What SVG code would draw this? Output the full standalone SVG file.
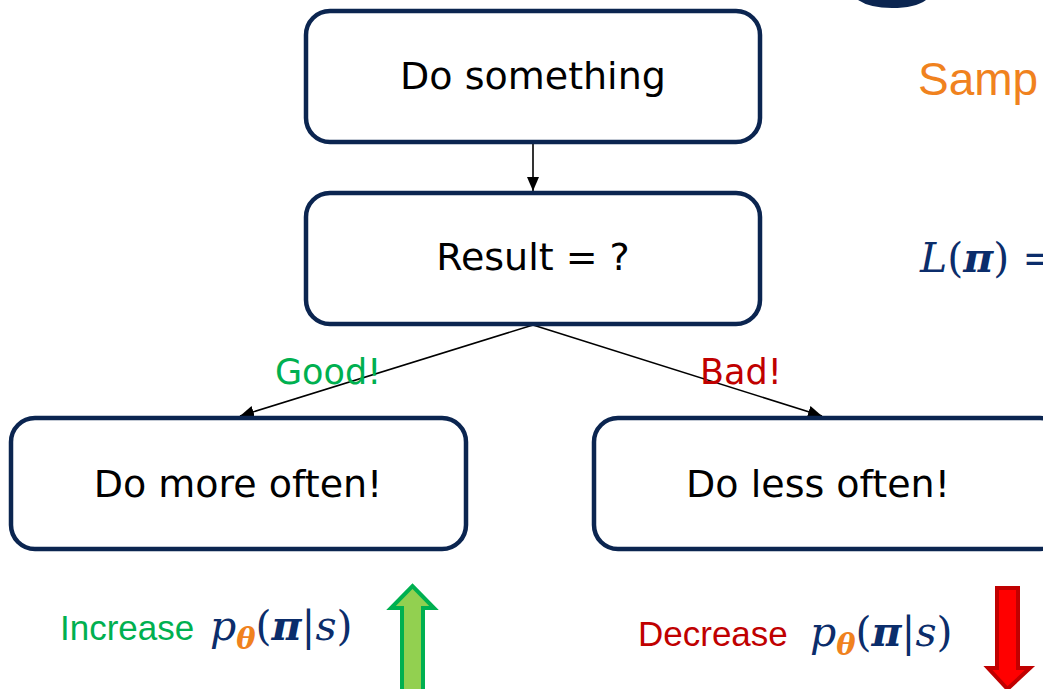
<svg xmlns="http://www.w3.org/2000/svg" width="1043" height="689" viewBox="0 0 1043 689">
<defs>
<style>
.box{fill:#fff;stroke:#0b2550;stroke-width:4.5}
.lbl{font-family:"DejaVu Sans","Noto Sans",sans-serif;font-size:38px;fill:#000;text-anchor:middle}
.conn{stroke:#000;stroke-width:1.6;fill:none}
.hand{font-family:"DejaVu Sans","Noto Sans",sans-serif;font-size:35px}
.math{font-family:"DejaVu Serif","Liberation Serif",serif;font-size:41px;fill:#0b2d6b}
.sans{font-family:"Liberation Sans",Arial,sans-serif}
</style>
<marker id="ah" viewBox="0 0 14 12" refX="14" refY="6" markerWidth="14" markerHeight="12" markerUnits="userSpaceOnUse" orient="auto">
<path d="M0,0 L14,6 L0,12 z" fill="#000"/>
</marker>
</defs>
<rect width="1043" height="689" fill="#fff"/>
<path d="M858,0 Q870,8 892,8 Q915,8 926,0 z" fill="#0b2550"/>
<g id="connectors">
<line class="conn" x1="533" y1="144" x2="533" y2="191" marker-end="url(#ah)"/>
<line class="conn" x1="533" y1="325" x2="240" y2="416" marker-end="url(#ah)"/>
<line class="conn" x1="533" y1="325" x2="822" y2="416" marker-end="url(#ah)"/>
</g>
<g id="node-do-something">
<rect class="box" x="306" y="11" width="454" height="131" rx="24"/>
<text class="lbl" x="533" y="89">Do something</text>
</g>
<g id="node-result">
<rect class="box" x="306" y="193" width="454" height="131" rx="24"/>
<text class="lbl" x="533" y="270">Result = ?</text>
</g>
<g id="node-more">
<rect class="box" x="11" y="418" width="455" height="131" rx="24"/>
<text class="lbl" x="238" y="497">Do more often!</text>
</g>
<g id="node-less">
<rect class="box" x="594" y="418" width="470" height="131" rx="24"/>
<text class="lbl" x="818" y="497">Do less often!</text>
</g>
<text class="hand" x="275" y="384" fill="#00b050">Good!</text>
<text class="hand" x="700" y="384" fill="#c00000">Bad!</text>
<text class="sans" x="918" y="95" font-size="46" fill="#f0821e">Samp</text>
<text class="math" x="920" y="272" font-size="43"><tspan font-style="italic">L</tspan>(<tspan font-weight="bold" font-style="italic">π</tspan>) =</text>
<text class="sans" x="60" y="640" font-size="35" fill="#00b050">Increase</text>
<text class="math" x="210" y="640"><tspan font-style="italic">p</tspan><tspan font-style="italic" font-weight="bold" fill="#f0821e" font-size="29" dy="9">θ</tspan><tspan dy="-9">(</tspan><tspan font-weight="bold" font-style="italic">π</tspan>|<tspan font-style="italic">s</tspan>)</text>
<text class="sans" x="638" y="646" font-size="35" fill="#c00000">Decrease</text>
<text class="math" x="810" y="646"><tspan font-style="italic">p</tspan><tspan font-style="italic" font-weight="bold" fill="#f0821e" font-size="29" dy="9">θ</tspan><tspan dy="-9">(</tspan><tspan font-weight="bold" font-style="italic">π</tspan>|<tspan font-style="italic">s</tspan>)</text>
<path d="M402,695 L402,608 L391,608 L412.5,586 L434,608 L423,608 L423,695 z" fill="#92d050" stroke="#00b050" stroke-width="4"/>
<path d="M997,588 L1018,588 L1018,668 L1030,668 L1007.5,689 L988,668 L997,668 z" fill="#ff0000" stroke="#c00000" stroke-width="4"/>
</svg>
